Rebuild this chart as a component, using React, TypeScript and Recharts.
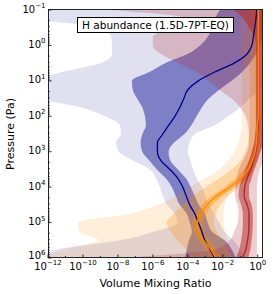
import React from "react";
import { ComposedChart, Area, Line, XAxis, YAxis } from "recharts";

// log10 of pressure (Pa), top of the atmosphere first
const logP = [-1, -0.75, -0.5, -0.25, 0, 0.25, 0.5, 0.75, 1, 1.25, 1.5, 1.75, 2, 2.25, 2.5, 2.75, 3, 3.25, 3.5, 3.75, 4, 4.25, 4.5, 4.75, 5, 5.25, 5.5, 5.75, 6];

// log10 volume mixing ratios
const blueMed = [-0.06, -0.1, -0.17, -0.25, -0.34, -0.62, -1.35, -2.46, -3.4, -4.0, -4.23, -4.46, -4.74, -5.09, -5.43, -5.74, -5.74, -5.54, -5.03, -4.57, -4.29, -4.09, -3.89, -3.6, -3.4, -3.2, -3.03, -2.74, -2.46];
const blueLo1 = [-2.17, -2.46, -2.6, -2.85, -3.3, -4.05, -5.3, -6.2, -7.2, -7.15, -6.9, -6.6, -6.45, -6.4, -6.6, -6.7, -6.6, -6.2, -5.77, -5.26, -4.91, -4.69, -4.46, -4.06, -3.89, -3.77, -3.94, -4.06, -4.17];
const blueHi1 = [0.3, 0.3, 0.3, 0.25, 0.1, -0.1, -0.45, -0.9, -1.5, -2.2, -2.8, -3.2, -3.5, -3.8, -4.2, -4.8, -5.1, -5.0, -4.57, -4.11, -3.83, -3.6, -3.37, -3.03, -2.86, -2.63, -1.9, -1.5, -1.26];
const blueLo2 = [-12.5, -12.5, -8.86, -8.4, -8.34, -8.34, -9.0, -11.2, -12.5, -12.5, -12.3, -10.1, -8.74, -7.89, -7.83, -8.11, -7.94, -7.14, -6.17, -5.83, -5.6, -5.43, -5.2, -4.74, -4.6, -5.9, -7.9, -11.4, -12.5];
const blueHi2 = [0.3, 0.3, 0.3, 0.3, 0.3, 0.3, 0.3, 0.3, 0.3, 0.1, -0.46, -1.0, -1.7, -2.46, -3.6, -3.9, -4.0, -3.85, -3.7, -3.5, -3.2, -3.0, -2.8, -2.5, -2.2, -1.9, -1.4, -1.0, -0.75];

const orangeMed = [0.03, 0.03, 0.03, 0.03, 0.03, 0.03, 0.03, 0.03, 0.03, 0.03, 0.03, 0.03, 0.03, -0.02, -0.04, -0.08, -0.15, -0.3, -0.55, -0.95, -1.6, -2.35, -2.9, -3.25, -3.45, -3.4, -3.1, -2.7, -2.4];
const orangeLo1 = [-0.12, -0.12, -0.12, -0.12, -0.12, -0.12, -0.12, -0.12, -0.12, -0.12, -0.12, -0.12, -0.12, -0.12, -0.12, -0.2, -0.3, -0.5, -0.8, -1.25, -1.9, -2.65, -3.2, -3.55, -3.75, -3.7, -3.4, -3.0, -2.7];
const orangeHi1 = [0.15, 0.15, 0.15, 0.15, 0.15, 0.15, 0.15, 0.15, 0.15, 0.15, 0.15, 0.15, 0.15, 0.15, 0.15, 0.1, 0.0, -0.12, -0.35, -0.7, -1.3, -2.05, -2.6, -2.95, -3.15, -3.1, -2.8, -2.4, -2.1];
const orangeLo2 = [-0.45, -0.45, -0.45, -0.45, -0.45, -0.45, -0.45, -0.45, -0.45, -0.45, -0.45, -0.45, -0.45, -0.45, -0.5, -0.55, -0.7, -1.0, -1.5, -2.2, -3.0, -3.7, -4.3, -4.8, -5.2, -5.0, -4.6, -4.1, -3.8];
const orangeHi2 = [0.3, 0.3, 0.3, 0.3, 0.3, 0.3, 0.3, 0.3, 0.3, 0.3, 0.3, 0.3, 0.3, 0.3, 0.3, 0.25, 0.1, -0.05, -0.25, -0.55, -1.05, -1.7, -2.15, -2.4, -2.5, -2.35, -2.0, -1.7, -1.45];
const orangeLo3 = [-0.9, -0.9, -0.9, -0.9, -0.9, -0.9, -0.9, -0.9, -0.9, -0.9, -0.9, -0.9, -0.9, -0.9, -1.0, -1.1, -1.35, -1.7, -2.2, -3.0, -3.9, -4.7, -5.7, -7.3, -10.3, -10.2, -9.1, -11.0, -12.5];
const orangeHi3 = [0.3, 0.3, 0.3, 0.3, 0.3, 0.3, 0.3, 0.3, 0.3, 0.3, 0.3, 0.3, 0.3, 0.3, 0.3, 0.3, 0.15, -0.05, -0.2, -0.6, -1.3, -1.7, -1.9, -1.95, -1.95, -1.85, -1.7, -1.5, -1.3];

const redMed = [0.03, 0.03, 0.03, 0.03, 0.03, 0.03, 0.03, 0.03, 0.03, 0.03, 0.03, 0.03, 0.03, 0.03, -0.03, -0.06, -0.12, -0.25, -0.4, -0.6, -0.75, -0.78, -0.6, -0.5, -0.5, -0.52, -0.58, -0.68, -0.88];
const redLo1 = [-1.37, -0.8, -0.5, -0.2, -0.1, -0.1, -0.1, -0.1, -0.1, -0.1, -0.1, -0.1, -0.1, -0.1, -0.15, -0.2, -0.35, -0.5, -0.7, -0.9, -1.05, -1.1, -0.95, -0.85, -0.85, -0.88, -0.95, -1.05, -1.25];
const redHi1 = [0.3, 0.3, 0.3, 0.3, 0.3, 0.3, 0.3, 0.3, 0.3, 0.3, 0.3, 0.3, 0.3, 0.3, 0.3, 0.3, 0.15, 0.0, -0.2, -0.35, -0.5, -0.5, -0.35, -0.28, -0.28, -0.3, -0.35, -0.42, -0.55];
const redLo2 = [-8.4, -4.0, -5.0, -6.0, -6.0, -5.5, -4.5, -3.5, -2.8, -2.2, -1.5, -1.0, -0.7, -0.55, -0.5, -0.5, -0.6, -0.85, -1.1, -1.2, -1.3, -1.3, -1.15, -1.1, -1.15, -1.35, -1.6, -2.4, -8.0];
const redHi2 = [0.3, 0.3, 0.3, 0.3, 0.3, 0.3, 0.3, 0.3, 0.3, 0.3, 0.3, 0.3, 0.3, 0.3, 0.3, 0.3, 0.3, 0.3, 0.1, 0.0, -0.05, -0.05, -0.05, -0.05, -0.05, -0.05, -0.05, -0.05, -0.05];

// axis ticks (decade exponents)
const xDecades = [-12, -11, -10, -9, -8, -7, -6, -5, -4, -3, -2, -1, 0];
const yDecades = [-1, 0, 1, 2, 3, 4, 5, 6];

const BLUE = "#00008b";
const ORANGE = "#ff8c00";
const RED = "#b22222";
const FONT = "DejaVu Sans";

const pw = (v: number) => Math.pow(10, v);

const rows = logP.map((lp, i) => ({
  p: pw(lp),
  blueMed: pw(blueMed[i]),
  blue1: [pw(blueLo1[i]), pw(blueHi1[i])],
  blue2: [pw(blueLo2[i]), pw(blueHi2[i])],
  orangeMed: pw(orangeMed[i]),
  orange1: [pw(orangeLo1[i]), pw(orangeHi1[i])],
  orange2: [pw(orangeLo2[i]), pw(orangeHi2[i])],
  orange3: [pw(orangeLo3[i]), pw(orangeHi3[i])],
  redMed: pw(redMed[i]),
  red1: [pw(redLo1[i]), pw(redHi1[i])],
  red2: [pw(redLo2[i]), pw(redHi2[i])],
}));

const xTicks = xDecades.map(pw);
const yTicks: number[] = [];
yDecades.forEach((d) => {
  yTicks.push(pw(d));
  if (d < 6) for (let m = 2; m < 10; m++) yTicks.push(m * pw(d));
});

const expText = (e: number) => (e < 0 ? "\u2212" + Math.abs(e) : String(e));

function XTick(props: any) {
  const { x, y, payload } = props;
  const e = Math.round(Math.log10(payload.value));
  const major = e % 2 === 0;
  return (
    <g>
      <line x1={x} x2={x} y1={y} y2={y - (major ? 3.5 : 2)} stroke="#000" strokeWidth={0.8} />
      {major && (
        <text x={x} y={y + 11.5} textAnchor="middle" fontSize={10} fontFamily={FONT} fill="#000">
          10<tspan dy={-4.5} fontSize={7}>{expText(e)}</tspan>
        </text>
      )}
    </g>
  );
}

function YTick(props: any) {
  const { x, y, payload } = props;
  const l = Math.log10(payload.value);
  const major = Math.abs(l - Math.round(l)) < 1e-6;
  // the lowest label is nudged up a little so it clears the first x label
  const dy = Math.round(l) === 6 ? 1 : 2.5;
  return (
    <g>
      <line x1={x} x2={x + (major ? 3.5 : 2)} y1={y} y2={y} stroke="#000" strokeWidth={major ? 0.8 : 0.6} />
      {major && (
        <text x={x - 2.5} y={y + dy} textAnchor="end" fontSize={10} fontFamily={FONT} fill="#000">
          10<tspan dy={-4.5} fontSize={7}>{expText(Math.round(l))}</tspan>
        </text>
      )}
    </g>
  );
}

export default function App() {
  return (
    <div style={{ position: "absolute", left: 0, top: 0, width: 274, height: 294, background: "#fff", fontFamily: FONT }}>
      <ComposedChart
        width={274}
        height={294}
        layout="vertical"
        data={rows}
        margin={{ top: 10, right: 11, bottom: 0, left: 0 }}
      >
        <XAxis
          type="number"
          scale="log"
          domain={[1e-12, 2]}
          allowDataOverflow
          ticks={xTicks}
          interval={0}
          tick={(p: any) => <XTick {...p} />}
          tickLine={false}
          axisLine={false}
          tickSize={0}
          tickMargin={0}
          height={36}
          label={{
            content: () => (
              <text x={155.5} y={286.5} textAnchor="middle" fontSize={11} fontFamily={FONT} fill="#000">
                Volume Mixing Ratio
              </text>
            ),
          }}
        />
        <YAxis
          type="number"
          dataKey="p"
          scale="log"
          domain={[0.1, 1e6]}
          allowDataOverflow
          ticks={yTicks}
          interval={0}
          tick={(p: any) => <YTick {...p} />}
          tickLine={false}
          axisLine={false}
          tickSize={0}
          tickMargin={0}
          width={48}
          label={{
            content: () => (
              <text x={14} y={134} transform="rotate(-90 14 134)" textAnchor="middle" fontSize={11} fontFamily={FONT} fill="#000">
                Pressure (Pa)
              </text>
            ),
          }}
        />

        <Area dataKey="blue2" type="monotone" stroke="none" fill={BLUE} fillOpacity={0.12} isAnimationActive={false} />
        <Area dataKey="blue1" type="monotone" stroke="none" fill={BLUE} fillOpacity={0.43} isAnimationActive={false} />
        <Area dataKey="orange3" type="monotone" stroke="none" fill={ORANGE} fillOpacity={0.15} isAnimationActive={false} />
        <Area dataKey="orange2" type="monotone" stroke="none" fill={ORANGE} fillOpacity={0.26} isAnimationActive={false} />
        <Area dataKey="orange1" type="monotone" stroke="none" fill={ORANGE} fillOpacity={0.4} isAnimationActive={false} />
        <Area dataKey="red2" type="monotone" stroke="none" fill={RED} fillOpacity={0.22} isAnimationActive={false} />
        <Area dataKey="red1" type="monotone" stroke="none" fill={RED} fillOpacity={0.5} isAnimationActive={false} />

        <Line dataKey="redMed" type="monotone" stroke={RED} strokeWidth={1.3} dot={false} isAnimationActive={false} />
        <Line dataKey="blueMed" type="monotone" stroke={BLUE} strokeWidth={1.3} dot={false} isAnimationActive={false} />
        <Line dataKey="orangeMed" type="monotone" stroke={ORANGE} strokeWidth={1.3} dot={false} isAnimationActive={false} />
      </ComposedChart>

      {/* frame */}
      <div
        style={{
          position: "absolute", left: 48, top: 9, width: 215, height: 249,
          boxSizing: "border-box", border: "1px solid #222", pointerEvents: "none",
        }}
      />
      {/* title box */}
      <div
        style={{
          position: "absolute", left: 77, top: 17, width: 157, height: 16,
          boxSizing: "border-box", border: "1px solid #000", background: "#fff",
          fontSize: 10.5, lineHeight: "14px", textAlign: "center", color: "#000",
          whiteSpace: "nowrap",
        }}
      >
        H abundance (1.5D-7PT-EQ)
      </div>
    </div>
  );
}
